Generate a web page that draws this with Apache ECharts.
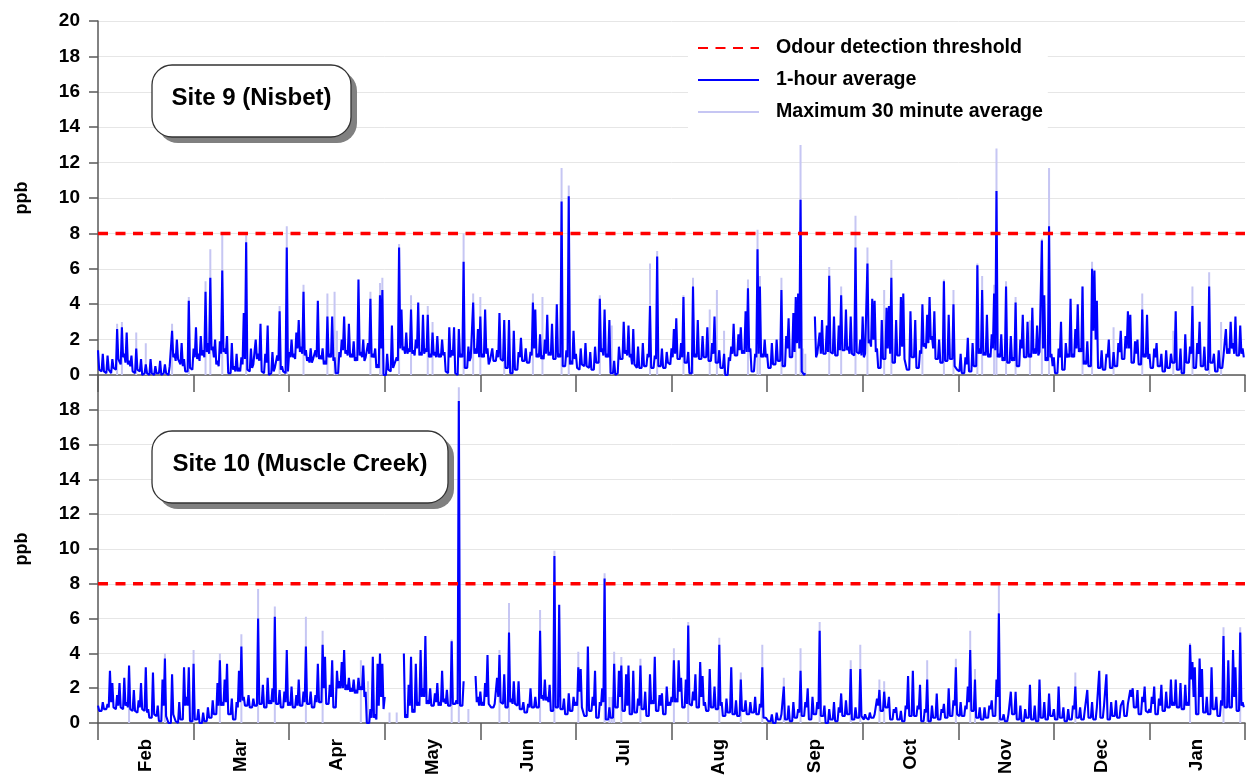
<!DOCTYPE html>
<html><head><meta charset="utf-8">
<script src="https://cdn.jsdelivr.net/npm/echarts@6/dist/echarts.min.js"></script>
<style>html,body{margin:0;padding:0;background:#fff}#c{width:1247px;height:778px}</style>
</head><body><div id="c"></div>
<script>
// Month labels (each month = 40 samples on the x axis)
const months = ['Feb','Mar','Apr','May','Jun','Jul','Aug','Sep','Oct','Nov','Dec','Jan'];
const threshold = 8;

// Site 9 (Nisbet) – 1-hour average peaks per sample (ppb), 40 samples per month, null = no data
const site9Hourly = [
 1.4,0.4,1.2,0.3,1.1,0.2,0.9,0.5,2.6,1.0,2.7,1.2,2.4,0.8,1.1,0.3,1.5,0.4,0.9,0.1,0.6,0.2,0.9,0.1,0.5,0.2,0.8,0.1,0.6,0.2,0.5,2.5,1.2,2.0,1.0,1.8,0.9,0.3,4.2,0.5,
 1.5,2.7,1.2,2.2,1.4,4.7,1.8,5.5,1.6,2.0,0.8,1.9,5.9,1.5,2.2,0.2,1.8,0.5,1.2,0.4,1.0,3.5,7.5,0.4,1.5,0.6,2.0,1.2,2.9,0.3,1.2,2.8,0.1,1.3,0.4,1.1,3.6,0.5,0.3,7.2,
 1.3,2.0,1.2,2.4,3.1,1.6,4.7,1.4,1.0,1.5,0.9,1.4,4.2,1.1,1.5,0.8,3.3,1.2,3.3,1.0,0.2,1.3,2.0,3.3,1.4,2.9,1.2,1.9,1.0,5.4,1.3,2.0,1.0,1.8,4.3,1.2,1.5,0.6,4.5,4.8,
 0.0,1.2,0.4,2.8,0.6,1.0,7.2,3.7,1.6,2.4,1.5,3.7,1.4,2.0,4.1,1.3,3.4,1.5,3.4,1.2,2.4,1.3,2.2,1.2,2.0,1.3,0.2,2.7,1.4,2.7,0.1,2.6,1.2,6.4,0.5,1.6,1.0,4.1,1.5,2.6,
 3.3,1.2,3.7,1.5,0.8,1.5,0.9,1.4,3.5,1.0,3.1,0.5,3.1,0.2,2.5,0.4,1.3,2.1,0.9,1.5,0.8,1.3,4.1,3.7,1.2,2.3,1.1,2.0,3.4,1.3,2.9,1.0,4.0,1.2,9.8,0.6,1.4,10.1,0.8,2.5,
 1.2,0.5,1.5,0.7,1.8,0.6,1.3,0.4,1.6,0.8,4.3,1.5,3.7,1.2,3.1,0.2,0.8,0.1,1.6,1.0,3.0,1.4,2.8,1.2,2.6,0.7,1.6,0.5,1.8,0.6,1.2,3.9,0.5,1.1,6.7,0.6,1.5,0.5,1.3,0.8,
 1.5,2.6,3.2,1.0,1.8,4.4,0.8,1.3,0.2,5.0,1.2,3.1,1.0,2.2,1.1,2.7,0.9,1.8,3.3,0.8,1.4,0.5,1.2,0.0,1.0,1.6,2.9,1.2,2.3,2.7,1.4,3.6,4.9,1.5,0.3,1.2,7.1,5.0,1.2,2.0,
 1.2,0.5,1.8,0.7,2.0,0.9,4.8,0.6,2.2,3.2,1.1,3.5,4.4,4.6,9.9,0.3,0.1,null,null,null,3.3,1.2,2.4,3.1,1.3,2.8,5.6,1.4,3.3,1.2,2.8,4.5,1.5,3.7,1.6,3.3,1.3,7.2,1.4,2.0,
 3.3,1.2,6.3,2.0,4.3,4.2,1.5,0.5,3.1,1.0,3.8,3.9,5.5,0.8,3.1,1.2,4.4,4.6,1.0,0.4,3.6,1.1,3.1,0.5,1.4,4.0,1.8,3.4,4.4,2.2,3.6,1.0,2.0,0.8,5.3,0.9,3.4,1.0,4.0,0.6,
 0.4,1.2,0.2,1.0,2.1,0.3,1.8,0.6,6.2,1.5,4.8,1.3,3.4,1.2,2.3,4.6,10.4,1.2,2.3,1.0,5.0,0.8,2.2,1.0,4.1,0.6,2.0,3.4,1.1,3.0,1.2,3.8,1.5,2.8,1.3,7.6,4.5,1.0,8.4,1.2,
 1.0,0.2,1.5,3.0,0.4,1.8,1.2,4.3,1.2,2.6,4.0,1.5,5.0,0.8,1.9,0.6,6.0,5.9,4.2,0.5,1.4,0.4,1.2,2.0,0.5,1.3,0.6,1.8,2.5,1.0,2.2,3.6,3.4,0.8,1.9,2.0,0.7,3.7,1.2,3.4,
 1.2,0.5,1.5,1.8,0.6,1.2,0.3,1.4,0.5,1.2,0.8,3.6,0.4,1.5,0.1,2.3,0.8,1.6,3.9,0.5,1.8,3.0,0.6,1.6,0.4,5.0,0.8,1.2,0.3,1.4,0.5,1.1,2.6,1.5,3.0,1.8,3.3,1.2,2.8,1.5
];
// Site 9 – 1-hour average troughs between consecutive samples (ppb)
const site9Troughs = [
 0.3,0.2,0.2,0.1,0.3,0.1,0.4,0.3,0.9,0.6,1.0,0.7,0.6,0.5,0.2,0.1,0.3,0.2,0.0,0.1,0.1,0.0,0.1,0.0,0.1,0.1,0.0,0.1,0.1,0.0,0.4,1.0,0.8,0.9,0.6,0.5,0.2,0.2,0.4,0.3,
 1.0,0.9,0.8,1.1,1.0,1.3,1.2,1.4,1.0,0.6,0.5,1.2,1.3,1.2,0.1,0.1,0.3,0.2,0.2,0.2,0.6,0.9,0.3,0.2,0.4,0.5,0.9,0.8,0.2,0.1,0.7,0.0,0.1,0.2,0.3,0.8,0.3,0.2,0.1,0.2,
 1.0,1.0,0.9,1.5,1.3,1.2,1.1,0.8,0.7,0.7,0.8,1.0,0.9,0.9,0.6,0.6,1.0,1.0,0.8,0.1,0.1,1.0,1.4,1.2,1.1,1.0,1.0,0.8,0.8,1.1,1.0,0.8,0.9,1.2,1.0,1.0,0.4,0.4,1.5,0.0,
 0.0,0.3,0.2,0.4,0.5,0.8,1.5,1.4,1.2,1.2,1.3,1.2,1.1,1.5,1.1,1.1,1.2,1.3,1.0,1.0,1.1,1.0,1.0,1.0,1.1,0.2,0.1,1.0,1.1,0.1,0.0,1.0,1.0,0.4,0.4,0.8,0.9,1.2,1.2,1.0,
 1.0,1.0,1.2,0.6,0.7,0.8,0.8,1.0,0.9,0.8,0.4,0.4,0.1,0.1,0.3,0.3,1.0,0.8,0.8,0.7,0.7,1.1,1.5,1.0,1.0,0.9,0.9,1.2,1.1,1.1,0.9,0.9,1.0,1.0,0.5,0.5,1.0,0.6,0.6,0.9,
 0.4,0.3,0.6,0.5,0.5,0.4,0.3,0.3,0.7,0.7,1.3,1.1,1.0,1.0,0.1,0.1,0.0,0.1,0.9,0.9,1.2,1.1,1.0,0.6,0.6,0.4,0.4,0.4,0.5,0.5,1.0,0.4,0.4,0.9,0.5,0.5,0.4,0.4,0.7,0.6,
 1.0,1.2,0.9,0.9,1.0,0.7,0.7,0.1,0.1,1.0,1.0,0.9,0.9,1.0,1.0,0.8,0.8,1.2,0.7,0.7,0.4,0.4,0.0,0.0,0.8,1.2,1.1,1.1,1.4,1.2,1.2,1.3,1.3,0.2,0.2,1.0,1.2,1.0,1.0,1.0,
 0.4,0.4,0.6,0.6,0.8,0.8,0.5,0.5,1.5,1.0,1.0,1.3,1.8,1.5,0.2,0.0,null,null,null,null,1.0,1.1,1.2,1.2,1.2,1.3,1.3,1.2,1.1,1.1,1.4,1.4,1.4,1.4,1.2,1.2,1.1,1.3,1.2,1.1,
 1.0,1.1,1.8,1.6,2.0,1.3,0.4,0.4,0.9,0.9,1.5,1.2,0.7,0.7,1.1,1.1,1.6,0.9,0.3,0.3,1.0,1.0,0.4,0.4,1.2,1.6,1.5,1.8,2.0,1.5,0.9,0.9,0.7,0.7,0.8,0.8,0.9,0.9,0.5,0.3,
 0.2,0.1,0.1,0.6,0.2,0.2,0.5,0.5,1.2,1.2,1.1,1.1,1.0,1.0,1.5,1.4,1.0,1.0,0.8,0.8,0.7,0.7,0.8,0.8,0.5,0.5,1.5,1.0,1.0,1.0,1.0,1.2,1.2,1.1,1.2,1.5,0.8,0.8,1.0,0.5,
 0.1,0.1,1.0,0.3,0.3,1.0,1.0,1.0,1.0,1.5,1.3,1.3,0.6,0.6,0.5,0.5,2.5,2.0,0.4,0.4,0.3,0.3,1.0,0.4,0.4,0.5,0.5,1.3,0.9,0.9,1.5,1.5,0.7,0.7,1.2,0.6,0.6,1.0,1.0,0.9,
 0.4,0.4,1.0,0.5,0.5,0.2,0.2,0.4,0.4,0.7,0.7,0.3,0.3,0.1,0.1,0.7,0.7,1.2,0.4,0.4,1.2,0.5,0.5,0.3,0.3,0.7,0.7,0.2,0.2,0.4,0.4,1.0,1.2,1.2,1.5,1.2,1.1,1.1,1.2,1.0
];
// Site 9 – maximum 30 minute average peaks [sample index, ppb]
const site9Max = [
 [8,2.9],[10,3.0],[16,2.4],[20,1.8],[31,2.9],[38,4.4],
 [45,5.3],[47,7.1],[52,8.0],[62,7.9],[76,3.9],[79,8.4],
 [86,5.1],[96,4.6],[99,4.7],[100,2.5],[114,4.7],[118,5.2],[119,5.5],
 [126,7.4],[131,4.5],[138,3.9],[140,3.0],[153,8.0],[157,4.6],
 [160,4.4],[170,2.6],[182,4.6],[186,4.4],[194,11.7],[197,10.7],
 [210,4.5],[215,2.8],[231,6.3],[234,7.0],
 [245,4.5],[249,5.5],[256,3.7],[259,4.8],[262,2.5],[272,5.4],[276,8.2],[277,5.6],
 [286,5.5],[292,3.0],[294,13.0],[295,1.5],[296,1.2],[306,6.1],[311,5.0],[317,9.0],
 [322,7.2],[329,4.8],[332,6.5],[345,2.8],[354,5.4],[358,4.8],
 [368,6.3],[370,5.6],[375,5.1],[376,12.8],[380,5.3],[384,4.4],[390,3.1],[395,7.7],[398,11.7],
 [412,5.0],[416,6.4],[425,2.7],[437,4.6],
 [450,2.5],[458,5.0],[465,5.8],[470,3.0]
];

// Site 10 (Muscle Creek) – 1-hour average peaks per sample (ppb)
const site10Hourly = [
 1.0,0.8,1.2,0.9,1.1,3.0,2.3,1.0,1.6,2.3,1.0,2.6,1.2,3.3,0.9,1.9,0.8,1.3,2.3,0.9,3.2,0.8,0.4,2.9,0.6,1.0,0.2,2.5,3.7,0.5,0.0,2.8,0.6,0.1,1.2,0.3,3.2,1.5,3.2,0.2,
 3.4,0.3,0.8,0.0,0.6,0.2,0.9,0.4,1.3,0.6,2.3,3.6,1.2,2.5,3.4,0.6,1.4,0.3,1.2,3.0,4.4,1.5,1.1,1.6,1.0,1.4,1.1,6.0,1.2,2.2,1.0,2.6,1.3,2.0,6.1,1.2,1.9,1.0,1.8,4.2,
 1.2,2.1,1.0,1.6,2.5,1.1,1.8,4.4,1.2,1.8,1.0,1.6,3.4,1.3,4.5,3.8,1.2,2.2,3.6,1.0,3.0,2.4,3.5,4.2,2.2,2.6,2.0,2.5,1.9,2.6,2.1,3.3,1.8,0.0,0.8,3.8,0.5,3.4,4.0,3.4,
 1.5,null,null,null,null,null,null,null,4.0,0.5,2.2,3.8,0.8,3.4,1.2,4.2,2.0,5.0,1.3,2.0,1.1,1.7,2.3,1.2,3.0,1.4,1.9,1.1,4.7,1.2,1.3,18.5,1.1,2.4,null,null,null,null,2.7,1.5,
 1.8,1.2,2.3,3.9,1.2,1.0,1.1,2.6,3.9,1.3,2.8,1.0,5.2,1.4,2.4,1.2,2.4,0.9,1.2,0.7,1.1,2.0,1.0,1.5,1.0,5.3,1.6,2.5,1.5,2.2,0.8,9.6,1.0,6.8,0.9,1.4,0.6,1.7,0.8,1.5,
 1.2,3.2,3.1,1.0,0.5,4.4,0.8,1.5,3.0,0.4,1.2,2.0,8.3,0.3,0.9,0.4,3.4,1.0,3.0,3.3,0.8,2.8,3.3,0.6,3.0,0.7,1.4,3.3,0.9,1.8,0.5,2.8,1.3,3.8,0.8,1.6,1.7,0.6,2.1,1.2,
 1.5,3.6,1.4,3.6,2.6,1.0,2.5,5.6,1.2,1.8,2.8,1.0,3.5,2.7,1.2,0.8,3.1,1.0,2.1,0.9,4.5,1.2,0.5,1.4,0.7,3.2,0.6,1.3,0.5,2.5,0.8,1.3,0.6,1.2,0.7,1.5,0.6,1.1,3.2,0.4,
 0.4,0.2,0.5,0.1,0.6,0.3,0.5,2.1,0.3,1.0,0.2,1.2,0.4,0.8,3.0,0.5,1.2,2.0,0.3,1.5,0.6,1.2,5.3,0.5,1.0,0.1,0.8,0.3,1.2,0.2,0.9,1.7,0.5,1.3,0.6,3.1,0.3,0.9,0.4,3.1,
 0.3,0.5,0.3,0.6,0.4,0.5,1.4,1.9,0.8,1.8,1.0,1.5,0.3,0.8,0.9,0.3,0.7,0.2,1.0,2.7,0.5,3.0,0.5,1.0,2.2,0.2,0.8,2.5,0.2,1.0,0.4,1.7,0.3,0.8,1.1,0.4,2.0,0.5,1.3,3.2,
 0.6,1.2,0.5,1.0,2.1,4.2,0.8,2.5,0.4,0.9,0.3,0.9,0.4,1.0,1.3,0.5,2.5,6.3,0.3,0.5,0.2,0.5,1.8,0.6,1.8,0.3,1.0,0.2,0.8,0.4,2.2,0.3,1.0,0.2,2.5,0.4,1.2,0.3,1.7,0.5,
 0.8,0.3,2.1,0.4,0.9,0.2,0.8,0.3,1.0,2.1,0.4,0.9,0.3,0.8,1.9,0.4,1.2,0.3,0.9,3.0,0.4,1.0,2.8,0.3,1.2,0.5,1.3,0.4,1.0,1.3,0.5,1.1,1.9,2.0,1.0,1.9,0.6,1.5,2.1,0.8,
 0.8,1.5,2.1,0.6,1.4,2.2,0.8,1.8,1.0,2.5,1.2,2.5,1.0,2.3,0.9,2.2,1.2,4.5,3.5,3.2,0.6,3.7,3.1,0.7,1.5,0.6,3.2,0.9,1.5,0.5,1.3,5.0,1.0,3.6,1.0,4.2,3.2,0.8,5.2,1.2
];
// Site 10 – 1-hour average troughs between consecutive samples (ppb)
const site10Troughs = [
 0.7,0.7,0.8,0.8,0.9,1.2,0.9,0.8,1.0,0.9,0.8,1.0,0.9,0.8,0.7,0.7,0.6,0.9,0.8,0.7,0.6,0.3,0.3,0.5,0.4,0.1,0.1,1.0,0.4,0.0,0.0,0.5,0.1,0.0,0.2,0.2,1.0,1.0,0.1,0.1,
 0.2,0.2,0.0,0.0,0.1,0.1,0.3,0.3,0.5,0.5,1.0,1.0,1.0,1.2,0.5,0.5,0.2,0.2,0.9,1.2,1.3,1.0,1.0,0.9,0.9,1.0,1.0,1.1,1.1,0.9,0.9,1.1,1.1,1.2,1.1,1.1,0.9,0.9,1.2,1.0,
 1.0,0.9,0.9,1.0,1.0,1.0,1.2,1.1,1.1,0.9,0.9,1.2,1.2,1.2,2.0,1.1,1.1,1.5,0.9,0.9,2.0,2.0,2.0,1.9,1.9,1.8,1.8,1.7,1.7,1.9,1.9,1.5,0.0,0.0,0.3,0.3,0.2,1.0,1.5,0.8,
 null,null,null,null,null,null,null,null,0.3,0.3,1.0,0.6,0.6,1.0,1.0,1.5,1.5,1.1,1.1,1.0,1.0,1.2,1.0,1.0,1.2,1.1,1.0,1.0,1.1,1.1,1.1,1.0,1.0,null,null,null,null,null,1.2,1.0,
 1.0,1.0,1.5,1.1,0.9,0.9,1.0,1.5,1.2,1.1,0.9,0.9,1.2,1.1,1.1,1.0,0.8,0.8,0.6,0.6,0.9,0.9,0.9,0.9,0.9,1.4,1.3,1.3,1.2,0.7,0.7,0.9,0.9,0.8,0.8,0.5,0.5,0.7,0.7,1.0,
 1.0,1.8,0.9,0.4,0.4,0.7,0.7,1.0,0.3,0.3,1.0,1.2,0.2,0.2,0.3,0.3,0.9,0.9,1.5,0.7,0.7,1.0,0.5,0.5,0.6,0.6,1.0,0.8,0.8,0.4,0.4,1.1,1.1,0.7,0.7,1.0,0.5,0.5,1.0,1.0,
 1.2,1.2,1.2,1.8,0.9,0.9,1.1,1.1,1.0,1.3,0.9,0.9,1.5,1.0,0.7,0.7,0.9,0.9,0.8,0.8,1.0,0.4,0.4,0.6,0.6,0.5,0.5,0.4,0.4,0.7,0.7,0.5,0.5,0.6,0.6,0.5,0.5,0.9,0.3,0.3,
 0.1,0.1,0.0,0.0,0.2,0.2,0.4,0.2,0.2,0.1,0.1,0.3,0.3,0.6,0.4,0.4,0.9,0.2,0.2,0.5,0.5,0.8,0.4,0.4,0.0,0.0,0.2,0.2,0.1,0.1,0.6,0.4,0.4,0.5,0.5,0.2,0.2,0.3,0.3,0.4,
 0.2,0.3,0.2,0.3,0.3,0.4,1.0,0.7,0.7,0.9,0.9,0.2,0.2,0.6,0.2,0.2,0.1,0.1,0.8,0.4,0.4,0.4,0.4,0.8,0.1,0.1,0.6,0.1,0.1,0.3,0.3,0.2,0.2,0.6,0.3,0.3,0.4,0.4,1.0,0.5,
 0.4,0.4,0.4,0.8,1.2,0.7,0.7,0.3,0.3,0.2,0.2,0.3,0.3,0.8,0.4,0.4,1.5,0.2,0.2,0.1,0.1,0.4,0.5,0.5,0.2,0.2,0.1,0.1,0.3,0.3,0.2,0.2,0.1,0.1,0.3,0.3,0.2,0.2,0.4,0.4,
 0.2,0.2,0.3,0.3,0.1,0.1,0.2,0.2,0.8,0.3,0.3,0.2,0.2,0.7,0.3,0.3,0.2,0.2,0.8,0.3,0.3,0.9,0.2,0.2,0.4,0.4,0.3,0.3,0.9,0.4,0.4,1.0,1.5,0.9,0.9,0.5,0.5,1.2,0.7,0.6,
 0.6,1.1,0.5,0.5,1.0,0.7,0.7,0.9,0.9,1.0,1.0,0.9,0.9,0.8,0.8,1.0,1.0,2.5,1.5,0.5,0.5,1.5,0.6,0.6,0.5,0.5,0.8,0.8,0.4,0.4,1.0,0.9,0.9,0.9,0.9,1.5,0.7,0.7,1.0,0.9
];
// Site 10 – maximum 30 minute average peaks [sample index, ppb]
const site10Max = [
 [13,2.6],[28,4.0],[40,4.2],[51,4.0],[60,5.1],[67,7.7],[74,6.7],
 [87,6.1],[94,5.3],[110,3.6],[113,2.4],
 [122,0.6],[125,0.6],[148,4.8],[151,19.3],[155,0.8],
 [168,4.2],[172,6.9],[185,6.5],[191,9.9],[201,4.1],
 [212,8.6],[214,1.5],[215,1.5],[216,4.1],[219,3.8],[227,3.7],
 [241,4.3],[247,5.8],[260,4.9],[269,2.9],[278,4.5],
 [287,2.6],[294,4.3],[302,5.8],[315,3.6],[319,4.5],
 [327,2.5],[329,2.4],[347,3.6],[359,3.7],
 [365,5.3],[367,3.1],[377,7.9],
 [409,2.9],
 [457,4.6],[471,5.5],[478,5.5]
];

const NSAMP = months.length * 40;
const FONT = '"Liberation Sans", Arial, sans-serif';
const BLUE = '#0000ff', LAV = '#c6c6f3', RED = '#ff0000', AX = '#595959';

// sample i at x=i (peak), trough between samples at x=i+0.5
function lineData(peaks, troughs){
  const out = [];
  peaks.forEach((v,i)=>{
    out.push([i, v===null?'-':v]);
    const t = troughs[i];
    out.push([i+0.5, t===null?'-':t]);
  });
  return out;
}
function spikeData(peaks){ const out=[]; peaks.forEach(p=>{ out.push([p[0],0],[p[0],p[1]],[p[0],'-']); }); return out; }

const chart = echarts.init(document.getElementById('c'), null, {renderer:'canvas'});

function valueX(g){
  return {gridIndex:g, type:'value', min:0, max:NSAMP, interval:40,
    axisLine:{show:true, onZero:false, lineStyle:{color:AX,width:1.5}},
    axisTick:{show:true, length:17, lineStyle:{color:AX,width:1.5}},
    axisLabel:{show:false}, splitLine:{show:false}};
}
function valueY(g, hideTop){
  return {gridIndex:g, type:'value', min:0, max:20, interval:2,
    name:'ppb', nameLocation:'middle', nameGap:67,
    nameTextStyle:{fontSize:18, fontWeight:'bold', color:'#000', fontFamily:FONT},
    axisLine:{show:true, lineStyle:{color:AX,width:1.5}},
    axisTick:{show:true, length:9, lineStyle:{color:AX,width:1.5}},
    axisLabel:{fontSize:19, fontWeight:'bold', color:'#000', fontFamily:FONT, margin:18,
      formatter: v => (hideTop && v===20) ? '' : String(v)},
    splitLine:{show:true, lineStyle:{color:'#e6e6e6', width:1}}};
}
function siteSeries(g, xIdx, hourly, troughs, peaks){
  return [
    {name:'Maximum 30 minute average', type:'line', xAxisIndex:xIdx, yAxisIndex:g, data:spikeData(peaks),
     symbol:'none', connectNulls:false, lineStyle:{color:LAV,width:2}, itemStyle:{color:LAV}, z:1, silent:true},
    {name:'1-hour average', type:'line', xAxisIndex:xIdx, yAxisIndex:g, data:lineData(hourly, troughs),
     symbol:'none', connectNulls:false, lineStyle:{color:BLUE,width:2.1}, itemStyle:{color:BLUE}, z:2, silent:true},
    {name:'Odour detection threshold', type:'line', xAxisIndex:xIdx, yAxisIndex:g, data:[[0,threshold],[NSAMP,threshold]],
     symbol:'none', lineStyle:{color:RED,width:3.5,type:[10,7.5]}, itemStyle:{color:RED}, z:3, silent:true}
  ];
}
// rounded label box with drop shadow (annotation)
function siteBox(text, x, y, w, h){
  return [
    {type:'rect', z:100, shape:{x:x+6, y:y+6, width:w, height:h, r:20}, style:{fill:'#808080'}, silent:true},
    {type:'rect', z:101, shape:{x:x, y:y, width:w, height:h, r:20}, style:{fill:'#fff', stroke:'#333', lineWidth:1.3}, silent:true},
    {type:'text', z:102, x:x + w/2, y:y + h/2 - 3, silent:true,
     style:{text:text, align:'center', verticalAlign:'middle', fill:'#000',
            font:'bold 24px "Liberation Sans", Arial, sans-serif'}}
  ];
}

chart.setOption({
  animation:false,
  backgroundColor:'#fff',
  textStyle:{fontFamily:FONT},
  graphic:[].concat(siteBox('Site 9 (Nisbet)', 152, 65, 199, 72), siteBox('Site 10 (Muscle Creek)', 152, 431, 296, 72)),
  legend:{orient:'vertical', left:688, top:25, backgroundColor:'#fff',
    padding:[13,5,9,9], itemWidth:61, itemHeight:14, itemGap:12,
    itemStyle:{color:'rgba(0,0,0,0)', borderColor:'rgba(0,0,0,0)', borderWidth:0},
    data:['Odour detection threshold','1-hour average','Maximum 30 minute average'],
    textStyle:{fontSize:19.6, fontWeight:'bold', color:'#000', fontFamily:FONT, padding:[0,0,0,12], lineHeight:20}},
  grid:[{left:98, top:21, width:1147, height:354},
        {left:98, top:375, width:1147, height:352}],
  xAxis:[valueX(0), valueX(1),
    {gridIndex:1, type:'category', data:months, position:'bottom', boundaryGap:true,
     axisLine:{show:false}, axisTick:{show:false}, splitLine:{show:false},
     axisLabel:{rotate:90, margin:16, fontSize:18.5, fontWeight:'bold', color:'#000', fontFamily:FONT}}],
  yAxis:[valueY(0,false), valueY(1,true)],
  series:[].concat(siteSeries(0,0,site9Hourly,site9Troughs,site9Max), siteSeries(1,1,site10Hourly,site10Troughs,site10Max))
});
</script></body></html>
